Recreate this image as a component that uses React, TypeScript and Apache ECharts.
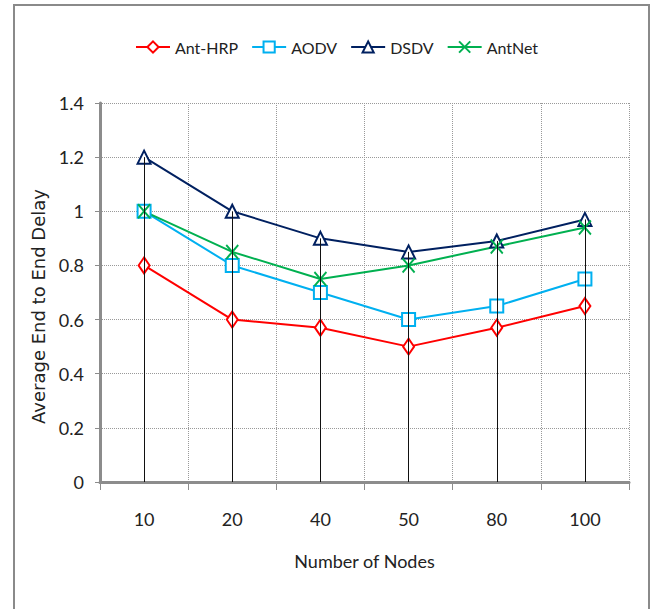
import React, { useEffect, useRef } from "react";
import * as echarts from "echarts";

const categories = ["10", "20", "40", "50", "80", "100"];
const antHrp = [0.8, 0.6, 0.57, 0.5, 0.57, 0.65];
const aodv = [1.0, 0.8, 0.7, 0.6, 0.65, 0.75];
const dsdv = [1.2, 1.0, 0.9, 0.85, 0.89, 0.97];
const antNet = [1.0, 0.85, 0.75, 0.8, 0.87, 0.94];
const seriesNames = ["Ant-HRP", "AODV", "DSDV", "AntNet"];

const FONT = "Lato, 'Liberation Sans', sans-serif";

export default function App() {
  const ref = useRef<HTMLDivElement>(null);
  useEffect(() => {
    if (!ref.current) return;
    const chart = echarts.init(ref.current, null, { renderer: "svg" });
    const all = [antHrp, aodv, dsdv, antNet];
    const maxes = categories.map((_, i) => Math.max(...all.map((a) => a[i])));
    const mk = (name: string, data: number[], color: string, symbol: string, symbolSize: any) => ({
      name,
      type: "line",
      data,
      symbol,
      symbolSize,
      z: 3,
      lineStyle: { color, width: 2 },
      itemStyle: { color: "#ffffff", borderColor: color, borderWidth: 2 },
    });
    chart.setOption({
      animation: false,
      backgroundColor: "#ffffff",
      textStyle: { fontFamily: FONT },
      graphic: [
        {
          type: "rect",
          shape: { x: 14, y: 5, width: 635, height: 640 },
          style: { fill: "none", stroke: "#8a8a8a", lineWidth: 2 },
          silent: true,
          z: -1,
        },
      ],
      legend: {
        data: seriesNames,
        top: 34,
        left: 130,
        itemWidth: 34,
        itemHeight: 14,
        itemGap: 13,
        textStyle: { fontFamily: FONT, fontSize: 16, color: "#222" },
      },
      grid: { left: 100, right: 21, top: 103, bottom: 127, containLabel: false },
      xAxis: {
        type: "category",
        data: categories,
        boundaryGap: true,
        name: "Number of Nodes",
        nameLocation: "middle",
        nameGap: 70,
        nameTextStyle: { fontFamily: FONT, fontSize: 18, color: "#222" },
        axisLine: { lineStyle: { color: "#8c8c8c", width: 3 } },
        axisTick: { show: true, length: 8, lineStyle: { color: "#8c8c8c", width: 1 } },
        axisLabel: { fontFamily: FONT, fontSize: 18, color: "#222", margin: 28 },
        splitLine: { show: true, lineStyle: { color: "#999", type: "dotted", width: 1 } },
      },
      yAxis: {
        type: "value",
        min: 0,
        max: 1.4,
        interval: 0.2,
        name: "Average End to End Delay",
        nameLocation: "middle",
        nameRotate: 90,
        nameGap: 52,
        nameTextStyle: {
          fontFamily: "'DejaVu Sans', Verdana, sans-serif",
          fontSize: 18,
          color: "#222",
          padding: [0, 28, 0, 0],
        },
        axisLine: { show: true, lineStyle: { color: "#8c8c8c", width: 3 } },
        axisTick: { show: true, length: 5, lineStyle: { color: "#8c8c8c", width: 1 } },
        axisLabel: { fontFamily: FONT, fontSize: 18, color: "#222", margin: 16 },
        splitLine: { show: true, lineStyle: { color: "#999", type: "dotted", width: 1 } },
      },
      series: [
        {
          name: "drop",
          type: "line",
          data: maxes,
          symbol: "none",
          lineStyle: { opacity: 0 },
          z: 1,
          silent: true,
          markLine: {
            silent: true,
            symbol: ["none", "none"],
            label: { show: false },
            lineStyle: { color: "#111", type: "solid", width: 1 },
            data: categories.map((c, i) => [{ coord: [c, 0] }, { coord: [c, maxes[i]] }]),
          },
        },
        mk("Ant-HRP", antHrp, "#ff0000", "diamond", [11, 16]),
        mk("AODV", aodv, "#00b0f0", "rect", 13),
        mk("DSDV", dsdv, "#002060", "triangle", 13),
        {
          name: "AntNet",
          type: "line",
          data: antNet,
          symbol: "path://M0,0L10,12M10,0L0,12",
          symbolSize: [12, 14],
          z: 3,
          lineStyle: { color: "#00b050", width: 2 },
          itemStyle: { color: "#00b050", borderColor: "#00b050", borderWidth: 2 },
        },
      ],
    });
    return () => chart.dispose();
  }, []);
  return (
    <div
      ref={ref}
      style={{ position: "absolute", left: 0, top: 0, width: 650, height: 609 }}
    />
  );
}
